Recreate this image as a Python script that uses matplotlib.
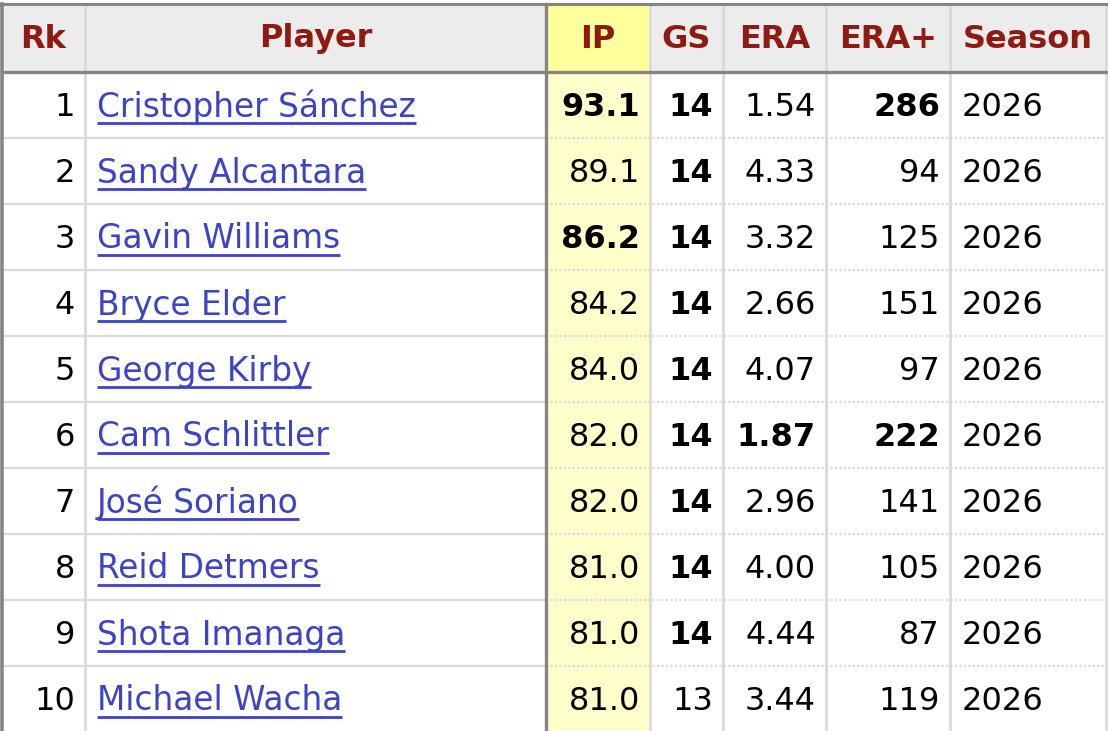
import matplotlib
matplotlib.use("Agg")
import matplotlib.pyplot as plt

columns = ["Rk", "Player", "IP", "GS", "ERA", "ERA+", "Season"]
ranks = ["1", "2", "3", "4", "5", "6", "7", "8", "9", "10"]
players = ["Cristopher Sánchez", "Sandy Alcantara", "Gavin Williams", "Bryce Elder",
           "George Kirby", "Cam Schlittler", "José Soriano", "Reid Detmers",
           "Shota Imanaga", "Michael Wacha"]
ip = ["93.1", "89.1", "86.2", "84.2", "84.0", "82.0", "82.0", "81.0", "81.0", "81.0"]
gs = ["14", "14", "14", "14", "14", "14", "14", "14", "14", "13"]
era = ["1.54", "4.33", "3.32", "2.66", "4.07", "1.87", "2.96", "4.00", "4.44", "3.44"]
era_plus = ["286", "94", "125", "151", "97", "222", "141", "105", "87", "119"]
season = ["2026"] * 10

ip_bold = [True, False, True, False, False, False, False, False, False, False]
gs_bold = [True] * 9 + [False]
era_bold = [False, False, False, False, False, True, False, False, False, False]
era_plus_bold = [True, False, False, False, False, True, False, False, False, False]

W, H = 1108, 731
fig = plt.figure(figsize=(W / 100, H / 100), dpi=100)
ax = fig.add_axes([0, 0, 1, 1])
ax.set_xlim(0, W)
ax.set_ylim(H, 0)
ax.axis("off")

# layout (pixels)
col_edges = [2, 85, 546, 650, 723, 826, 950, 1106]
header_top, header_bot = 4, 72
row_h = 66
n = len(ranks)

HEAD_BG = "#ececec"
IP_HEAD_BG = "#ffff9c"
IP_BG = "#ffffcc"
HEAD_COL = "#8f1a12"
LINK = "#3b43c6"
LIGHT = "#dadada"
DARK = "#858585"
FS = 23
FS_NAME = 23.6

# backgrounds
ax.add_patch(plt.Rectangle((col_edges[0], header_top), col_edges[-1] - col_edges[0],
                           header_bot - header_top, color=HEAD_BG, lw=0, zorder=0))
ax.add_patch(plt.Rectangle((col_edges[2], header_top), col_edges[3] - col_edges[2],
                           header_bot - header_top, color=IP_HEAD_BG, lw=0, zorder=0))
ax.add_patch(plt.Rectangle((col_edges[2], header_bot), col_edges[3] - col_edges[2],
                           H - header_bot, color=IP_BG, lw=0, zorder=0))

# row separators
for i in range(1, n):
    y = header_bot + i * row_h
    ax.plot([col_edges[0], col_edges[2]], [y, y], color=LIGHT, lw=1.6, zorder=1)
    ax.plot([col_edges[2], col_edges[-1]], [y, y], color=LIGHT, lw=1.6,
            linestyle=(0, (1, 1)), zorder=1)

# vertical lines
for j, x in enumerate(col_edges):
    if j == 0:
        ax.plot([x, x], [header_top, H], color=DARK, lw=2.6, zorder=2)
    elif j == 2:
        ax.plot([x, x], [header_top, H], color=DARK, lw=2.4, zorder=2)
    else:
        ax.plot([x, x], [header_top, H], color=LIGHT, lw=2.0, zorder=1)

ax.plot([0, W], [header_top, header_top], color=DARK, lw=2.2, zorder=3)
ax.plot([col_edges[0], col_edges[-1]], [header_bot, header_bot], color=DARK, lw=2.4, zorder=3)

# header text
for j, c in enumerate(columns):
    cx = (col_edges[j] + col_edges[j + 1]) / 2
    ax.text(cx, (header_top + header_bot) / 2 + 1, c, ha="center", va="center",
            fontsize=FS, fontweight="bold", color=HEAD_COL, zorder=4)

fig.canvas.draw()
renderer = fig.canvas.get_renderer()
inv = ax.transData.inverted()

for i in range(n):
    yc = header_bot + i * row_h + row_h / 2 + 2
    ax.text(col_edges[1] - 10, yc, ranks[i], ha="right", va="center", fontsize=FS, color="black", zorder=4)
    t = ax.text(col_edges[1] + 12, yc, players[i], ha="left", va="center", fontsize=FS_NAME, color=LINK, zorder=4)
    bb = t.get_window_extent(renderer)
    (x0, _), (x1, _) = inv.transform([(bb.x0, 0), (bb.x1, 0)])
    ax.plot([x0, x1], [yc + 16, yc + 16], color=LINK, lw=2.0, zorder=4, solid_capstyle="butt")
    ax.text(col_edges[3] - 10, yc, ip[i], ha="right", va="center", fontsize=FS,
            fontweight="bold" if ip_bold[i] else "normal", color="black", zorder=4)
    ax.text(col_edges[4] - 10, yc, gs[i], ha="right", va="center", fontsize=FS,
            fontweight="bold" if gs_bold[i] else "normal", color="black", zorder=4)
    ax.text(col_edges[5] - 10, yc, era[i], ha="right", va="center", fontsize=FS,
            fontweight="bold" if era_bold[i] else "normal", color="black", zorder=4)
    ax.text(col_edges[6] - 10, yc, era_plus[i], ha="right", va="center", fontsize=FS,
            fontweight="bold" if era_plus_bold[i] else "normal", color="black", zorder=4)
    ax.text(col_edges[6] + 12, yc, season[i], ha="left", va="center", fontsize=FS, color="black", zorder=4)

fig.savefig("out.png", dpi=100, facecolor="white")
